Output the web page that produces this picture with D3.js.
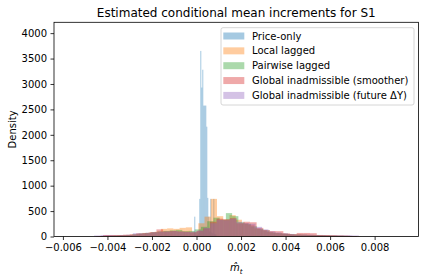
<!DOCTYPE html>
<html>
<head>
<meta charset="utf-8">
<script src="https://cdn.jsdelivr.net/npm/d3@7"></script>
<style>
  html, body { margin: 0; padding: 0; background: #fff; }
  svg { display: block; }
  text { font-family: "DejaVu Sans", sans-serif; fill: #000; }
</style>
</head>
<body>
<svg id="chart" width="424" height="280"></svg>
<script>
// ---------------- data ----------------
const seriesNames = [
  "Price-only",
  "Local lagged",
  "Pairwise lagged",
  "Global inadmissible (smoother)",
  "Global inadmissible (future \u0394Y)"
];
const seriesColors = ["#1f77b4", "#ff7f0e", "#2ca02c", "#d62728", "#9467bd"];

// histogram bin starts and widths (data units) per series
const binStarts = [-0.0001, -0.0044, -0.00428, -0.0045, -0.0046];
const binWidths = [0.000045, 0.00028, 0.00028, 0.0003, 0.00029];

// densities per bin
const priceOnly = [390, 20, 20, 30, 60, 740, 3650, 2930, 3280, 2575, 2575, 2575, 2160, 760, 390, 100, 740, 80, 60, 740, 50, 40];
const localLagged = [10, 20, 20, 25, 30, 40, 55, 70, 80, 95, 150, 160, 150, 170, 180, 90, 260, 390, 740, 400, 330, 420, 330, 260, 230, 160, 130, 90, 70, 60, 50, 40, 40, 35, 30, 30, 25, 20, 15, 15, 10, 8];
const pairwiseLagged = [10, 15, 20, 25, 30, 45, 60, 70, 85, 100, 110, 120, 130, 105, 110, 140, 190, 300, 370, 330, 460, 400, 280, 250, 200, 150, 120, 80, 65, 55, 45, 40, 35, 30, 30, 25, 20, 18, 15, 12, 8];
const globalSmoother = [10, 30, 30, 30, 35, 40, 60, 65, 85, 140, 100, 110, 100, 95, 80, 110, 160, 290, 350, 340, 360, 260, 290, 280, 170, 125, 108, 105, 60, 45, 70, 70, 65, 30, 28, 25, 20, 15, 10];
const globalFuture = [20, 30, 30, 25, 30, 35, 65, 65, 75, 85, 95, 100, 105, 95, 90, 95, 120, 170, 260, 330, 320, 350, 290, 265, 250, 190, 140, 100, 80, 65, 50, 40, 40, 35, 30, 28, 25, 25, 25, 25, 20];
const seriesDensities = [priceOnly, localLagged, pairwiseLagged, globalSmoother, globalFuture];

const xTicks = [-0.006, -0.004, -0.002, 0.000, 0.002, 0.004, 0.006, 0.008];
const yTicks = [0, 500, 1000, 1500, 2000, 2500, 3000, 3500, 4000];
const xDomain = [-0.0064, 0.00997];
const yDomain = [0, 4213];

const titleText = "Estimated conditional mean increments for S1";
const yLabelText = "Density";

// ---------------- layout ----------------
const W = 424, H = 280;
const plot = { left: 54, right: 418.5, top: 22.3, bottom: 236.5 };

const svg = d3.select("#chart");
const x = d3.scaleLinear().domain(xDomain).range([plot.left, plot.right]);
const y = d3.scaleLinear().domain(yDomain).range([plot.bottom, plot.top]);

// bars
seriesDensities.forEach((dens, si) => {
  const bins = dens.map((v, i) => ({
    x0: binStarts[si] + i * binWidths[si],
    x1: binStarts[si] + (i + 1) * binWidths[si],
    v
  }));
  svg.append("g")
    .selectAll("rect")
    .data(bins)
    .join("rect")
    .attr("x", d => x(d.x0))
    .attr("width", d => Math.max(0, x(d.x1) - x(d.x0)))
    .attr("y", d => y(d.v))
    .attr("height", d => y(0) - y(d.v))
    .attr("fill", seriesColors[si])
    .attr("fill-opacity", 0.4);
});

// axes
const xAxis = d3.axisBottom(x).tickValues(xTicks).tickFormat(d3.format(".3f")).tickSize(3.5).tickPadding(3.5);
const yAxis = d3.axisLeft(y).tickValues(yTicks).tickFormat(d3.format("d")).tickSize(3.5).tickPadding(3.5);

const gx = svg.append("g").attr("transform", `translate(0,${plot.bottom})`).call(xAxis);
const gy = svg.append("g").attr("transform", `translate(${plot.left},0)`).call(yAxis);
[gx, gy].forEach(g => {
  g.select(".domain").remove();
  g.selectAll(".tick line").attr("stroke", "#000").attr("stroke-width", 0.8);
  g.selectAll(".tick text").style("font-size", "10px").style("font-family", "DejaVu Sans").attr("fill", "#000");
});

// spines
svg.append("rect")
  .attr("x", plot.left).attr("y", plot.top)
  .attr("width", plot.right - plot.left).attr("height", plot.bottom - plot.top)
  .attr("fill", "none").attr("stroke", "#000").attr("stroke-width", 0.8);

// title
svg.append("text")
  .attr("x", (plot.left + plot.right) / 2).attr("y", 16.5)
  .attr("text-anchor", "middle").style("font-size", "12px")
  .text(titleText);

// y label
svg.append("text")
  .attr("transform", `translate(15.5,${(plot.top + plot.bottom) / 2}) rotate(-90)`)
  .attr("text-anchor", "middle").style("font-size", "10px")
  .text(yLabelText);

// x label: m-hat subscript t
const xl = svg.append("text")
  .attr("x", (plot.left + plot.right) / 2).attr("y", 271)
  .attr("text-anchor", "middle").style("font-size", "10px")
  .style("font-style", "italic");
xl.append("tspan").text("m\u0302");
xl.append("tspan").attr("dy", 2.5).style("font-size", "7px").text("t");

// legend
const leg = { x: 221, y: 27.7, w: 193, h: 77.3 };
svg.append("rect")
  .attr("x", leg.x).attr("y", leg.y).attr("width", leg.w).attr("height", leg.h)
  .attr("rx", 2).attr("fill", "#fff").attr("fill-opacity", 0.8)
  .attr("stroke", "#cccccc").attr("stroke-width", 0.8);
seriesNames.forEach((name, i) => {
  const cy = 36 + i * 14.85;
  svg.append("rect")
    .attr("x", 223.3).attr("y", cy - 3.5).attr("width", 21).attr("height", 7)
    .attr("fill", seriesColors[i]).attr("fill-opacity", 0.4);
  svg.append("text")
    .attr("x", 252).attr("y", cy + 3.6)
    .style("font-size", "10px")
    .text(name);
});
</script>
</body>
</html>
